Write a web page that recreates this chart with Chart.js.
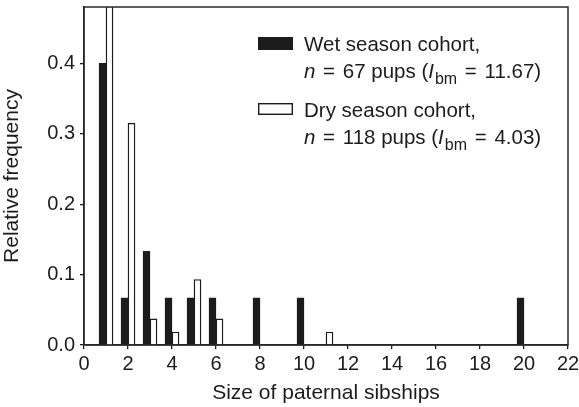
<!DOCTYPE html>
<html>
<head>
<meta charset="utf-8">
<script src="https://cdn.jsdelivr.net/npm/chart.js@4"></script>
<style>
  html, body { margin: 0; padding: 0; background: #fff; }
  #wrap { width: 579px; height: 407px; position: relative; }
</style>
</head>
<body>
<div id="wrap"><canvas id="c"></canvas></div>
<script>
// Data
const wetSizes = [1, 2, 3, 4, 5, 6, 8, 10, 20];
const wetFreq  = [0.400, 0.067, 0.133, 0.067, 0.067, 0.067, 0.067, 0.067, 0.067];
const drySizes = [1, 2, 3, 4, 5, 6, 11];
const dryFreq  = [0.481, 0.315, 0.037, 0.0185, 0.093, 0.037, 0.0185];
const xTicks = [0, 2, 4, 6, 8, 10, 12, 14, 16, 18, 20, 22];
const yTicks = [0.0, 0.1, 0.2, 0.3, 0.4];
const wetLabel = ["Wet season cohort,", "67", "11.67"];
const dryLabel = ["Dry season cohort,", "118", "4.03"];

const FONT = "'Liberation Sans', Arial, Helvetica, sans-serif";
const INK = '#1c1c1c';

const framePlugin = {
  id: 'frame',
  afterDatasetsDraw(chart) {
    const {ctx, chartArea: a} = chart;
    ctx.save();
    ctx.strokeStyle = '#2a2a2a';
    ctx.lineWidth = 1.5;
    ctx.strokeRect(a.left, a.top, a.right - a.left, a.bottom - a.top);
    ctx.restore();
  }
};

function drawRich(ctx, x, y, parts, size) {
  let cx = x;
  for (const p of parts) {
    if (p.gap) { cx += p.gap; continue; }
    const fs = p.sub ? size * 0.78 : size;
    ctx.font = (p.it ? 'italic ' : '') + fs + 'px ' + FONT;
    const dy = p.sub ? size * 0.27 : 0;
    ctx.fillText(p.t, cx, y + dy);
    cx += ctx.measureText(p.t).width;
  }
}

function richLine(n, ibm) {
  return [
    {t: 'n', it: true}, {gap: 2}, {t: ' = '}, {gap: 2}, {t: n + ' pups ('},
    {t: 'I', it: true}, {gap: 1}, {t: 'bm', sub: true}, {gap: 2}, {t: ' = '}, {gap: 2}, {t: ibm + ')'}
  ];
}

const legendPlugin = {
  id: 'customLegend',
  afterDraw(chart) {
    const {ctx, chartArea: a} = chart;
    const bx = a.left + 174, bw = 35;
    const tx = a.left + 220;
    const size = 20.5;
    ctx.save();
    ctx.textBaseline = 'alphabetic';
    // wet
    ctx.fillStyle = INK;
    ctx.fillRect(bx, a.top + 30, bw, 13);
    drawRich(ctx, tx, a.top + 44, [{t: wetLabel[0]}], size);
    drawRich(ctx, tx, a.top + 71, richLine(wetLabel[1], wetLabel[2]), size);
    // dry
    ctx.fillStyle = '#fff';
    ctx.fillRect(bx, a.top + 96, bw, 12);
    ctx.strokeStyle = INK;
    ctx.lineWidth = 1.4;
    ctx.strokeRect(bx + 0.7, a.top + 96.7, bw - 1.4, 12 - 1.4);
    ctx.fillStyle = INK;
    drawRich(ctx, tx, a.top + 110, [{t: dryLabel[0]}], size);
    drawRich(ctx, tx, a.top + 137, richLine(dryLabel[1], dryLabel[2]), size);
    ctx.restore();
  }
};

new Chart(document.getElementById('c'), {
  type: 'bar',
  data: {
    datasets: [
      {
        label: 'Wet season cohort',
        data: wetSizes.map((s, i) => ({x: s, y: wetFreq[i]})),
        backgroundColor: INK,
        borderColor: INK,
        borderWidth: 1,
        barThickness: 7
      },
      {
        label: 'Dry season cohort',
        data: drySizes.map((s, i) => ({x: s, y: dryFreq[i]})),
        backgroundColor: '#ffffff',
        borderColor: INK,
        borderWidth: 1.4,
        barThickness: 7
      }
    ]
  },
  options: {
    responsive: true,
    maintainAspectRatio: false,
    animation: false,
    devicePixelRatio: 1,
    layout: { padding: { left: 0, right: 11, top: 7, bottom: 0 } },
    plugins: { legend: { display: false }, tooltip: { enabled: false } },
    scales: {
      x: {
        type: 'linear',
        offset: false,
        min: 0, max: 22,
        afterBuildTicks: s => { s.ticks = xTicks.map(v => ({value: v})); },
        afterFit: s => { s.height = 62; s.paddingLeft = 0; s.paddingRight = 0; },
        ticks: { font: { family: FONT, size: 20 }, color: INK, padding: 3, maxRotation: 0, autoSkip: false },
        grid: { offset: false, drawOnChartArea: false, drawTicks: true, tickLength: 4, color: INK, lineWidth: 1.3 },
        border: { display: true, color: INK, width: 1.5 },
        title: { display: true, text: 'Size of paternal sibships', font: { family: FONT, size: 21 }, color: INK, padding: { top: 0, bottom: 1 } }
      },
      y: {
        min: 0, max: 0.48,
        afterBuildTicks: s => { s.ticks = yTicks.map(v => ({value: v})); },
        afterFit: s => { s.width = 84; s.paddingTop = 0; s.paddingBottom = 0; },
        ticks: { font: { family: FONT, size: 20 }, color: INK, padding: 5, callback: v => Number(v).toFixed(1) },
        grid: { drawOnChartArea: false, drawTicks: true, tickLength: 4, color: INK, lineWidth: 1.3 },
        border: { display: true, color: INK, width: 1.5 },
        title: { display: true, text: 'Relative frequency', font: { family: FONT, size: 21 }, color: INK, padding: { top: 0, bottom: 6 } }
      }
    }
  },
  plugins: [framePlugin, legendPlugin]
});
</script>
</body>
</html>
